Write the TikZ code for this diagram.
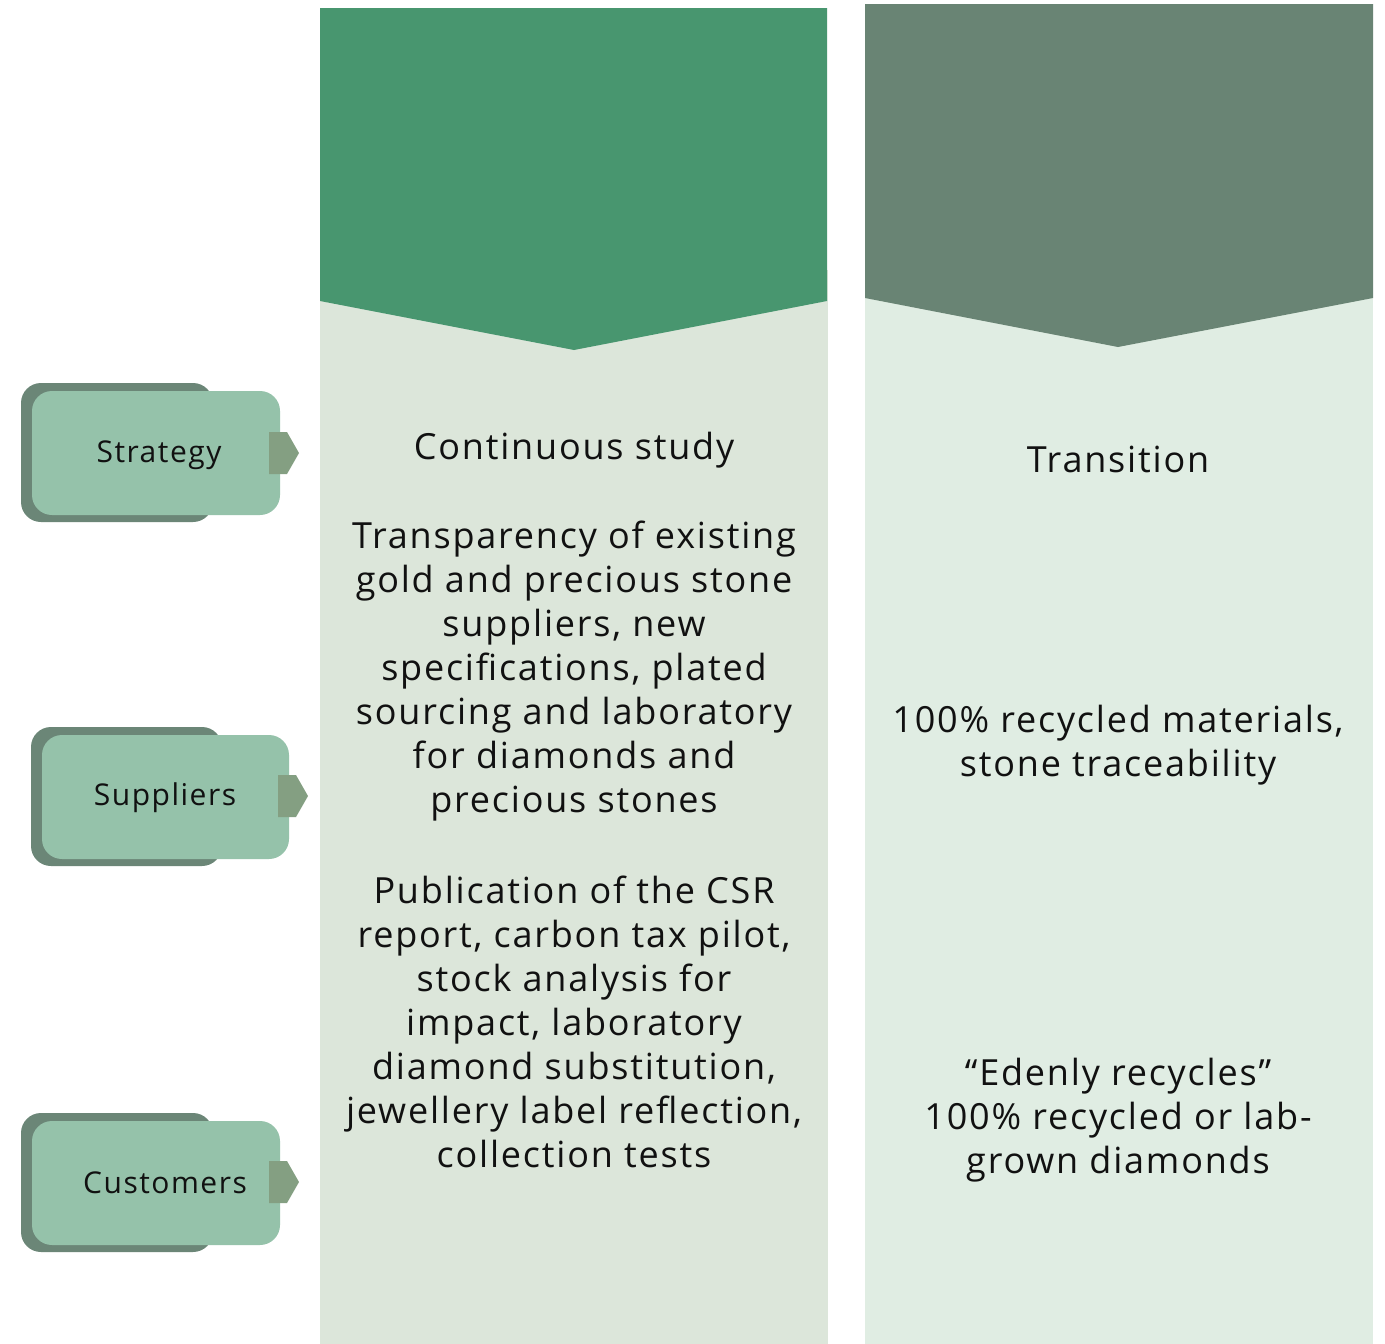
\documentclass[tikz,border=0pt]{standalone}
\usepackage{fontspec}
\setmainfont{Open Sans}[LetterSpace=5]
\definecolor{darkA}{HTML}{48966F}
\definecolor{lightA}{HTML}{DCE6DA}
\definecolor{darkB}{HTML}{698474}
\definecolor{lightB}{HTML}{E0EDE3}
\definecolor{shadowc}{HTML}{6B8677}
\definecolor{frontc}{HTML}{95C2AA}
\definecolor{tabc}{HTML}{849F82}
\definecolor{txt}{HTML}{111111}
\tikzset{
  shadowbox/.style={fill=shadowc, rounded corners=20pt, inner sep=0pt},
  frontbox/.style={fill=frontc, rounded corners=20pt, inner sep=0pt, minimum width=248pt, minimum height=124pt},
  tabshape/.style={fill=tabc},
  lbl/.style={text=txt, font=\fontsize{30}{36}\selectfont, inner sep=0pt},
  coltext/.style={text=txt, font=\fontsize{36}{44}\selectfont, align=center, inner sep=0pt}
}
\begin{document}
\begin{tikzpicture}[x=1pt,y=-1pt]
\useasboundingbox (0,0) rectangle (1385,1344);
\fill[white] (0,0) rectangle (1385,1344);
% column 1
\fill[lightA] (320,270) rectangle (828,1344);
\fill[darkA] (320,8) -- (827,8) -- (827,301) -- (574,350) -- (320,301) -- cycle;
% column 2
\fill[lightB] (865,266) rectangle (1373,1344);
\fill[darkB] (865,4) -- (1373,4) -- (1373,298) -- (1118,347) -- (865,298) -- cycle;
% Strategy
\fill[shadowbox] (21,383) rectangle (213,522);
\node[frontbox] (b1) at (156,453) {};
\fill[tabshape] (269,432) -- (287,432) -- (299,453) -- (287,474) -- (269,474) -- cycle;
\node[lbl] (l1) at (159,455) {Strategy};
% Suppliers
\fill[shadowbox] (31,727) rectangle (222,866);
\node[frontbox, minimum width=247pt] (b2) at (165.5,797) {};
\fill[tabshape] (278,775) -- (296,775) -- (308,796) -- (296,817) -- (278,817) -- cycle;
\node[lbl] (l2) at (165,798) {Suppliers};
% Customers
\fill[shadowbox] (21,1113) rectangle (213,1252);
\node[frontbox] (b3) at (156,1183) {};
\fill[tabshape] (269,1161) -- (287,1161) -- (299,1182) -- (287,1203) -- (269,1203) -- cycle;
\node[lbl] (l3) at (165,1183) {Customers};
% column 1 texts
\node[coltext] (c1a) at (574,450) {Continuous study};
\node[coltext] (c1b) at (574,671) {Transparency of existing\\gold and precious stone\\suppliers, new\\specifications, plated\\sourcing and laboratory\\for diamonds and\\precious stones};
\node[coltext] (c1c) at (574,1022) {Publication of the CSR\\report, carbon tax pilot,\\stock analysis for\\impact, laboratory\\diamond substitution,\\jewellery label reflection,\\collection tests};
% column 2 texts
\node[coltext] (c2a) at (1118,459) {Transition};
\node[coltext] (c2b) at (1118,745) {100\% recycled materials,\\stone traceability};
\node[coltext] (c2c) at (1118,1120) {“Edenly recycles”\\100\% recycled or lab-\\grown diamonds};
\end{tikzpicture}
\end{document}
